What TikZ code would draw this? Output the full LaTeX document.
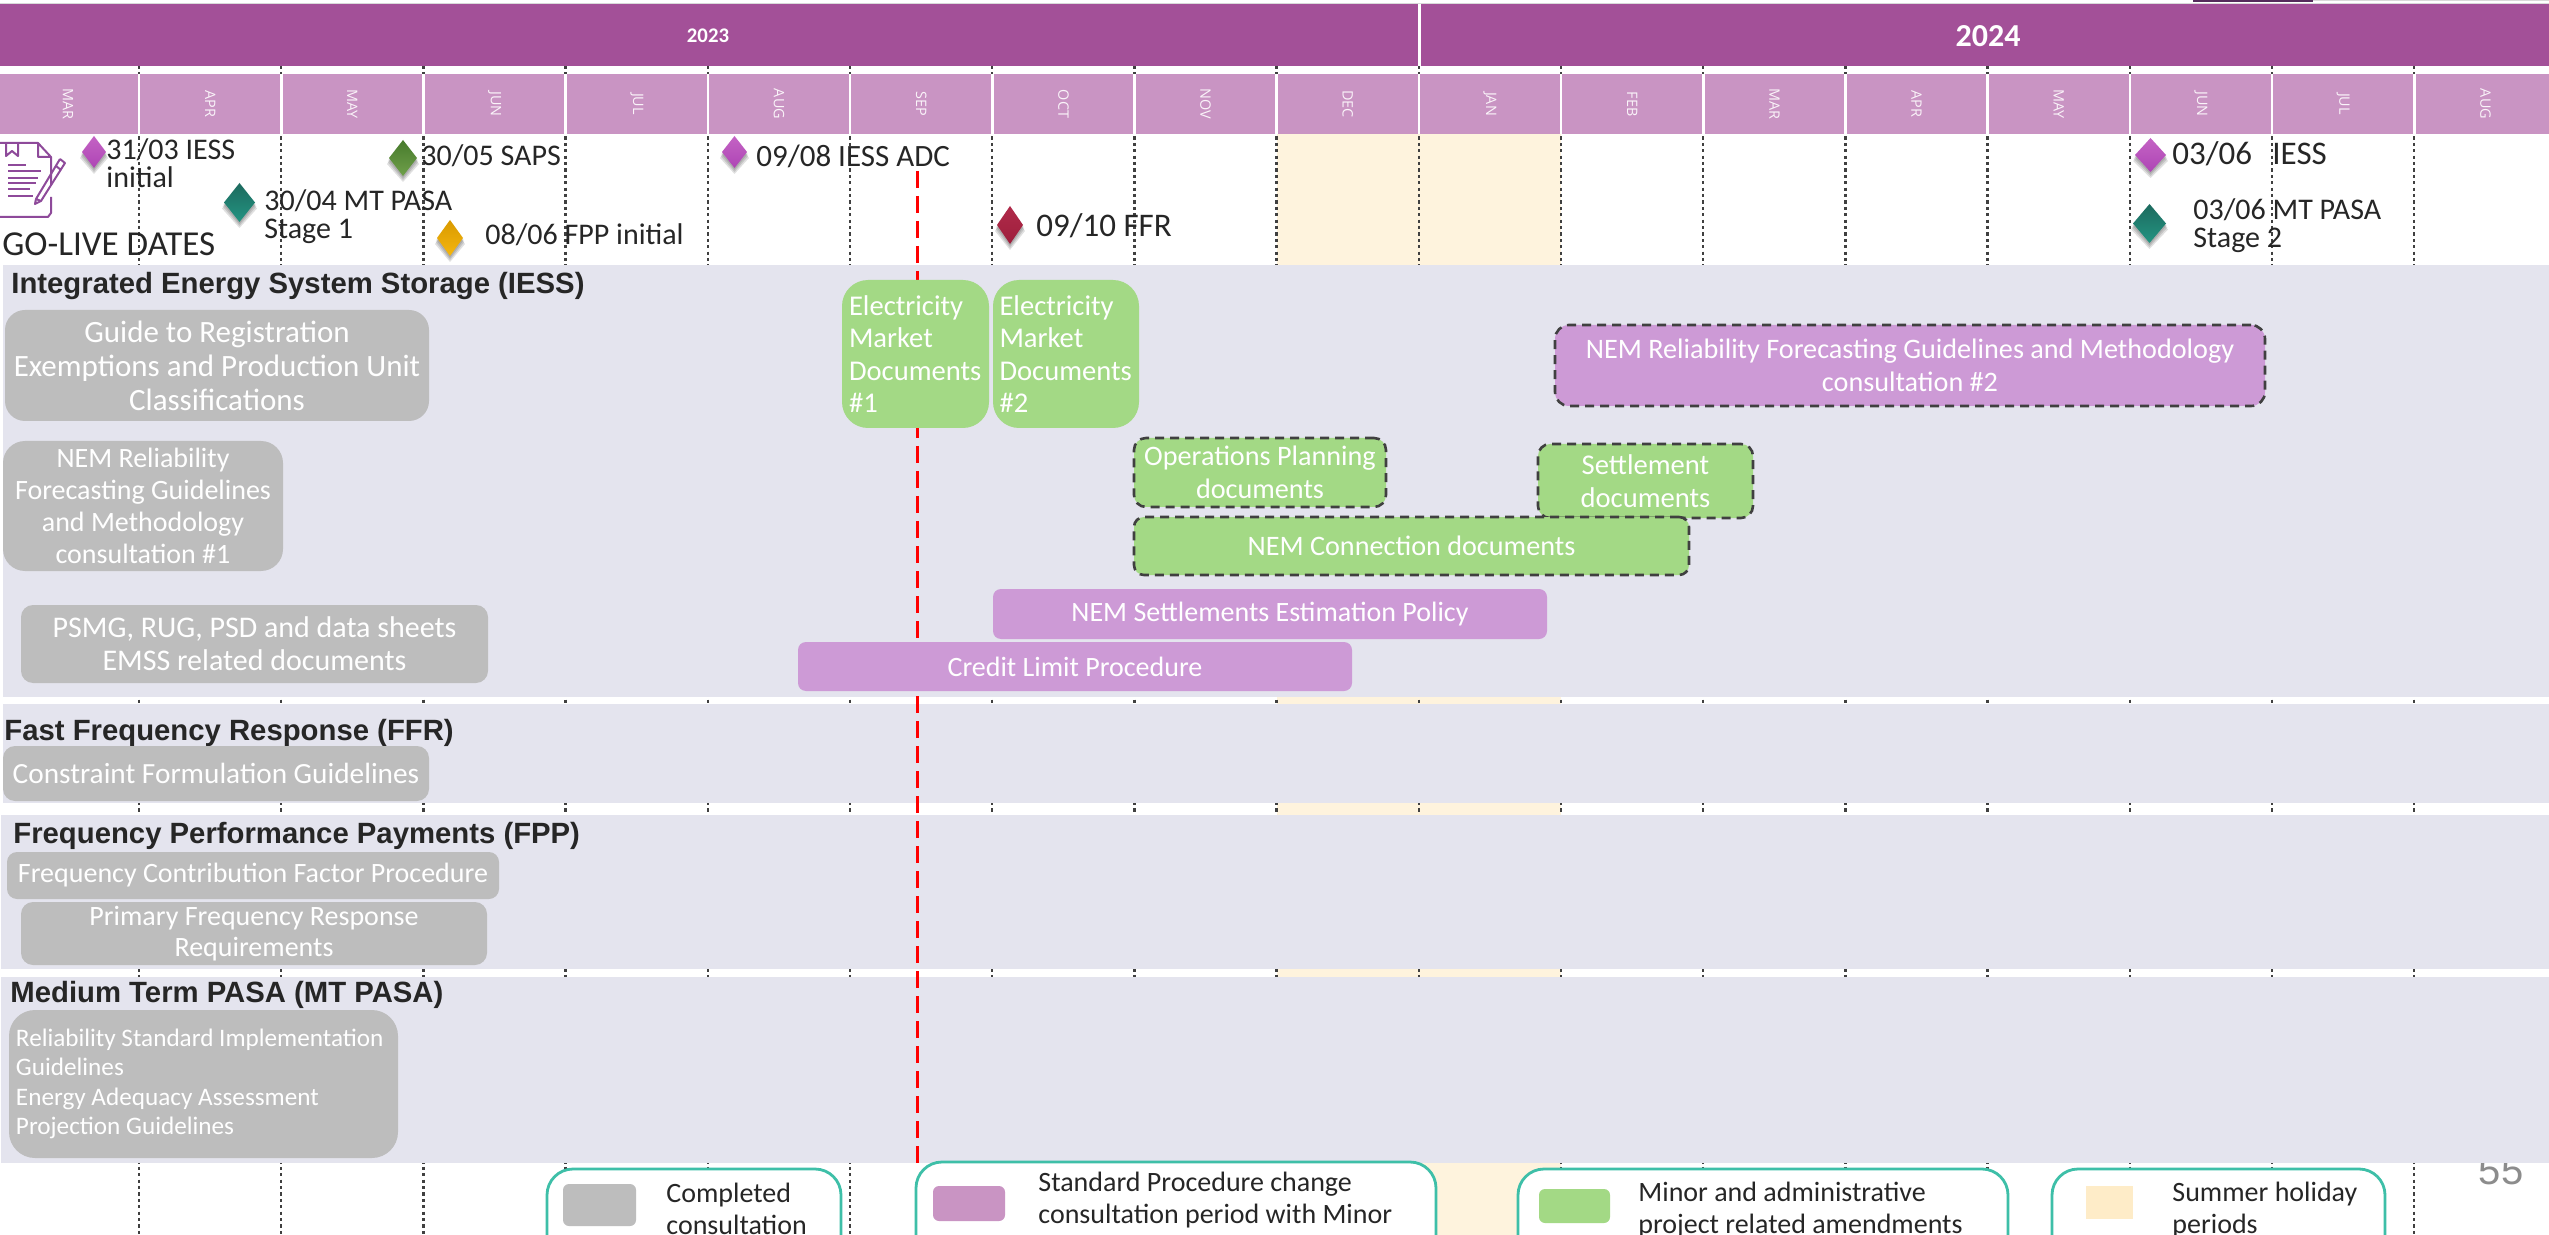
\documentclass[tikz,border=0pt]{standalone}
\usepackage{fontspec}
\setmainfont{Carlito}
\newfontfamily\headfont{Liberation Sans}
\newfontfamily\monthfont{Open Sans}
\usetikzlibrary{shapes.geometric}
\definecolor{yearbar}{HTML}{A35098}
\definecolor{monthbar}{HTML}{C994C3}
\definecolor{bandc}{HTML}{E4E4EE}
\definecolor{greyc}{HTML}{BDBDBD}
\definecolor{purpc}{HTML}{CD9AD6}
\definecolor{greenc}{HTML}{A3D985}
\definecolor{summerc}{HTML}{FEF3DD}
\definecolor{summerk}{HTML}{FEECC8}
\definecolor{tealc}{HTML}{3EBFA8}
\definecolor{inkc}{HTML}{262626}
\definecolor{iconc}{HTML}{8E4A9A}
\newcommand\pxf[2]{\fontsize{#1}{#2}\selectfont}
% \bx{name}{x1}{y1}{x2}{y2}{style}{font and size}{text}
\newcommand\bx[8]{%
  \pgfmathsetmacro\bxw{(#4-#2)*0.5}\pgfmathsetmacro\bxh{(#5-#3)*0.5}%
  \pgfmathsetmacro\bxx{(#2+#4)/2}\pgfmathsetmacro\bxy{(#3+#5)/2}%
  \node[task,minimum width=\bxw pt,minimum height=\bxh pt,font=#7,#6] (#1) at (\bxx,\bxy) {#8};}
% \dia{x1}{y1}{x2}{y2}{top colour}{bottom colour}
\newcommand\dia[6]{%
  \definecolor{dtop}{HTML}{#5}\definecolor{dbot}{HTML}{#6}%
  \pgfmathsetmacro\dxm{(#1+#3)/2}\pgfmathsetmacro\dym{(#2+#4)/2}%
  \foreach \s in {6,4,2}{\fill[black,opacity=.12] (\dxm,#2+\s) -- (#3+\s/3,\dym+\s) -- (\dxm,#4+\s) -- (#1-\s/3,\dym+\s) -- cycle;}
  \shade[top color=dtop,bottom color=dbot] (\dxm,#2) -- (#3,\dym) -- (\dxm,#4) -- (#1,\dym) -- cycle;}
\tikzset{
  task/.style={rectangle,inner sep=0pt,align=flush center,text=white,execute at begin node=\setlength\parindent{0pt}},
  grey task/.style={fill=greyc},
  purple task/.style={fill=purpc},
  green task/.style={fill=greenc},
  dash box/.style={draw=black!75,line width=1.3pt,dash pattern=on 4.5pt off 3pt},
  heading/.style={anchor=west,inner sep=0pt,text=black!85,font=\headfont\bfseries\pxf{14.65}{16}},
  milestone/.style={anchor=west,inner sep=0pt,text=inkc,align=flush left,font=\pxf{15}{14}},
  legendbox/.style={draw=tealc,line width=1.4pt,fill=white,rounded corners=13pt},
  legendtxt/.style={anchor=west,inner sep=0pt,align=flush left,text=inkc,font=\pxf{14}{16.2}},
  gridline/.style={draw=black!75,line width=1.2pt,dash pattern=on 1.6pt off 1.6pt},
}
\begin{document}
\begin{tikzpicture}[x=0.5pt,y=-0.5pt]
\clip (0,0) rectangle (2549,1235);
\fill[white] (0,0) rectangle (2549,1235);
% faint top rules
\fill[black!15] (0,3) rectangle (2549,5);
\fill[black!15] (2193,0) rectangle (2549,1);
\fill[iconc!60!black] (2193,0) rectangle (2313,2);
% summer
\fill[summerc] (1277,134) rectangle (1561,1235);
% grid
\foreach \k in {0,...,16}{\draw[gridline] ({139+142.2*\k},66) -- ({139+142.2*\k},1235);}
% page number (partly hidden by the band)
\node[inner sep=0pt,text=black!45,font=\headfont\pxf{20}{22}] (pageno) at (2501,1171) {55};
% bands
\fill[bandc] (3,265) rectangle (2549,697);
\fill[bandc] (3,704) rectangle (2549,803);
\fill[bandc] (1,815) rectangle (2549,969);
\fill[bandc] (1,977) rectangle (2549,1163);
% year bars
\fill[yearbar] (0,4) rectangle (2549,66);
\fill[white] (1418,4) rectangle (1421,66);
\node[text=white,inner sep=0pt,font=\bfseries\pxf{10.4}{12}] (y2023) at (708,36) {2023};
\node[text=white,inner sep=0pt,font=\bfseries\pxf{16}{18}] (y2024) at (1988,36) {2024};
% month row
\fill[monthbar] (0,74) rectangle (2549,134);
\foreach \k in {0,...,16}{\fill[white] ({139+142.2*\k-1.3},74) rectangle ({139+142.2*\k+1.3},134);}
\foreach \m [count=\i from 0] in {MAR,APR,MAY,JUN,JUL,AUG,SEP,OCT,NOV,DEC,JAN,FEB,MAR,APR,MAY,JUN,JUL,AUG}{
  \node[rotate=-90,inner sep=0pt,text=white!90!monthbar,font=\monthfont\pxf{7.2}{9}] (m\i) at ({68+142.2*\i},104) {\m};}
% today line
\draw[red,line width=1.5pt,dash pattern=on 8.5pt off 4pt] (917,171) -- (917,1163);
% icon
\draw[iconc,line width=1pt,line join=round]
  (0,143) -- (38,143) -- (51,157) -- (51,185) (51,197) -- (51,213) -- (48,217) -- (0,217)
  (38,143) -- (38,157) -- (51,157)
  (6,143) -- (6,156) -- (12,151) -- (18,156) -- (18,143);
\foreach \yy/\xx in {165/26,171/41,178/38,183/36,189/30,196/33}{\draw[iconc,line width=1pt] (8,\yy) -- (\xx,\yy);}
\draw[iconc,line width=1pt,line join=round] (60,159) -- (36,199) -- (35,204) -- (41,201) -- (65,163) -- (60,159) (36,199) -- (41,201) (56,166) -- (61,170);
% milestones
\dia{82}{136}{106}{168}{C463C4}{AE45B5}
\dia{389}{140}{417}{176}{477A2C}{6FA04A}
\dia{224}{183}{255}{222}{1D6A5E}{239482}
\dia{437}{220}{463}{256}{D99A00}{F5B60E}
\dia{722}{136}{747}{168}{C463C4}{AE45B5}
\dia{997}{206}{1023}{244}{B02A4A}{9E1F3C}
\dia{2135}{138}{2166}{172}{C463C4}{AE45B5}
\dia{2133}{204}{2166}{243}{1D6A5E}{239482}
\node[milestone] (t1) at (106,163) {31/03 IESS\\initial};
\node[milestone] (t2) at (421,156) {30/05 SAPS};
\node[milestone] (t3) at (264,217) {30/04 MT PASA\\Stage 1};
\node[milestone] (t4) at (485,235) {08/06 FPP initial};
\node[milestone,font=\pxf{17.5}{18}] (t5) at (2,244) {GO-LIVE DATES};
\node[milestone,font=\pxf{15.5}{14}] (t6) at (756,156) {09/08 IESS ADC};
\node[milestone,font=\pxf{16.5}{18}] (t7) at (1036,226) {09/10 FFR};
\node[milestone,font=\pxf{16.5}{18}] (t8) at (2172,154) {03/06};
\node[milestone,font=\pxf{16.5}{18}] (t9) at (2272,154) {IESS};
\node[milestone] (t10) at (2193,226) {03/06 MT PASA\\Stage 2};
% headings
\node[heading] (h1) at (11,286) {Integrated Energy System Storage (IESS)};
\node[heading] (h2) at (4,733) {Fast Frequency Response (FFR)};
\node[heading] (h3) at (13,836) {Frequency Performance Payments (FPP)};
\node[heading] (h4) at (10,995) {Medium Term PASA (MT PASA)};
% tasks
\bx{a1}{5}{310}{429}{421}{grey task,rounded corners=10pt}{\pxf{15.5}{17}}{Guide to Registration\\Exemptions and Production Unit\\Classifications}
\bx{a2}{3}{441}{283}{571}{grey task,rounded corners=11pt}{\pxf{14}{16}}{NEM Reliability\\Forecasting Guidelines\\and Methodology\\consultation \#1}
\bx{a3}{21}{605}{488}{683}{grey task,rounded corners=6pt}{\pxf{15}{16.5}}{PSMG, RUG, PSD and data sheets\\EMSS related documents}
\bx{b1}{842}{280}{989}{428}{green task,rounded corners=13pt,align=flush left,text width=66.5pt}{\pxf{14.3}{16.3}}{Electricity\\Market\\Documents\\\#1}
\bx{b2}{993}{280}{1139}{428}{green task,rounded corners=13pt,align=flush left,text width=66.5pt}{\pxf{14.3}{16.3}}{Electricity\\Market\\Documents\\\#2}
\bx{c1}{1555}{325}{2265}{406}{purple task,dash box,rounded corners=7pt}{\pxf{14.1}{16.5}}{NEM Reliability Forecasting Guidelines and Methodology\\consultation \#2}
\bx{c2}{1134}{438}{1386}{507}{green task,dash box,rounded corners=6pt}{\pxf{14.1}{16.5}}{Operations Planning\\documents}
\bx{c3}{1538}{444}{1753}{518}{green task,dash box,rounded corners=6pt}{\pxf{14.3}{16.5}}{Settlement\\documents}
\bx{c4}{1134}{517}{1689}{575}{green task,dash box,rounded corners=5pt}{\pxf{14.1}{16.5}}{NEM Connection documents}
\bx{d1}{993}{589}{1547}{639}{purple task,rounded corners=4pt}{\pxf{14}{16.5}}{NEM Settlements Estimation Policy}
\bx{d2}{798}{642}{1352}{691}{purple task,rounded corners=4pt}{\pxf{14}{16.5}}{Credit Limit Procedure}
\bx{e1}{3}{746}{429}{801}{grey task,rounded corners=6pt}{\pxf{14.65}{16.5}}{Constraint Formulation Guidelines}
\bx{f1}{7}{852}{499}{899}{grey task,rounded corners=5pt}{\pxf{14}{16}}{Frequency Contribution Factor Procedure}
\bx{f2}{21}{902}{487}{965}{grey task,rounded corners=6pt}{\pxf{14}{15.7}}{Primary Frequency Response\\Requirements}
\bx{g1}{9}{1010}{398}{1158}{grey task,rounded corners=13pt,align=flush left,text width=187.5pt}{\pxf{12.6}{14.6}}{Reliability Standard Implementation\\Guidelines\\Energy Adequacy Assessment\\Projection Guidelines}
% legend
\draw[legendbox] (547,1169) rectangle (841,1300);
\draw[legendbox] (916,1162) rectangle (1436,1300);
\draw[legendbox] (1518,1169) rectangle (2008,1300);
\draw[legendbox] (2052,1169) rectangle (2385,1300);
\fill[greyc,rounded corners=3pt] (563,1184) rectangle (636,1226);
\fill[monthbar,rounded corners=3pt] (933,1186) rectangle (1005,1221);
\fill[greenc,rounded corners=3pt] (1539,1189) rectangle (1610,1223);
\fill[summerk] (2086,1186) rectangle (2133,1219);
\node[legendtxt] (l1) at (666,1209) {Completed\\consultation};
\node[legendtxt] (l2) at (1038,1200) {Standard Procedure change\\consultation period with Minor};
\node[legendtxt] (l3) at (1638,1210) {Minor and administrative\\project related amendments};
\node[legendtxt] (l4) at (2172,1210) {Summer holiday\\periods};
\end{tikzpicture}
\end{document}
